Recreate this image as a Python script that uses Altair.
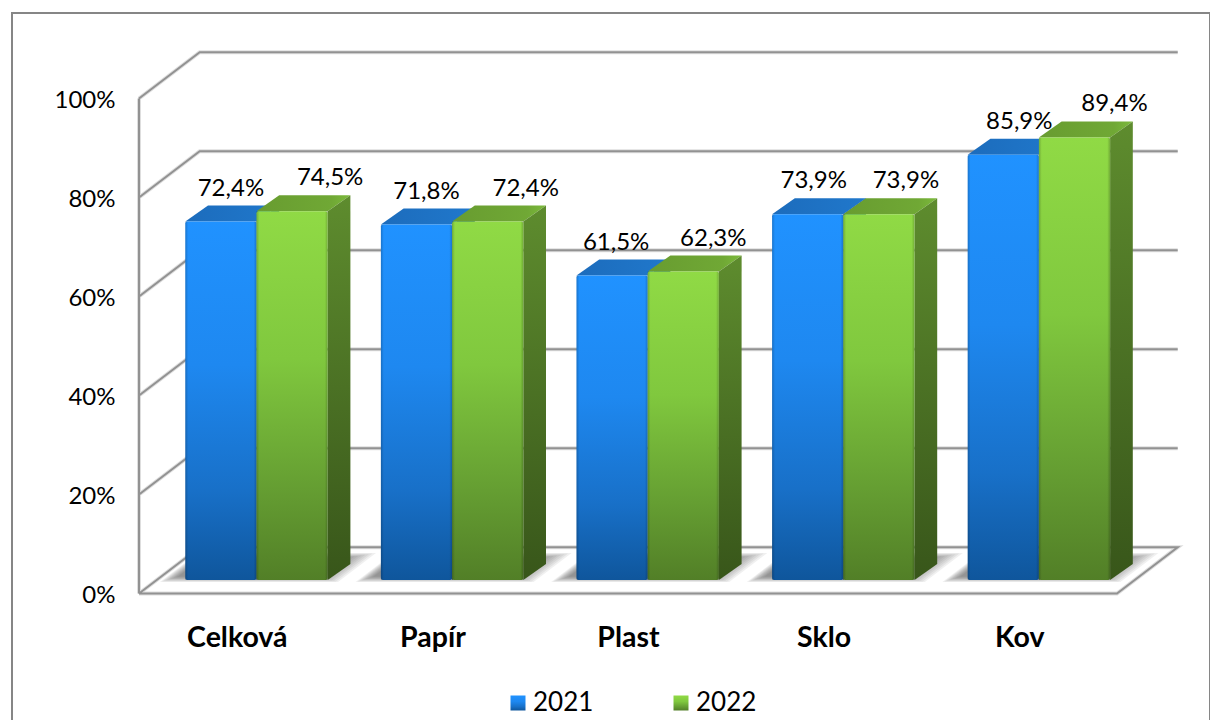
import json
import altair as alt
import pandas as pd

categories = ["Celková", "Papír", "Plast", "Sklo", "Kov"]
series = ["2021", "2022"]
v2021 = [72.4, 71.8, 61.5, 73.9, 85.9]
v2022 = [74.5, 72.4, 62.3, 73.9, 89.4]
ticks = [0, 20, 40, 60, 80, 100]
label_shift_px = {"2021": [10, 10, 4, 6, 16], "2022": [38, 38, 30, 27, 40]}

PX_X, PX_Y = 195.6, 4.95          # pixels per data unit
X_LO, X_HI = -127 / PX_X, 1071 / PX_X
Y_LO, Y_HI = -134.5 / PX_Y, 580.5 / PX_Y
WALL_DX, WALL_DY = 60.7 / PX_X, 46.3 / PX_Y
BAR_DX, BAR_DY = 22.7 / PX_X, 16 / PX_Y
BASE = 13.5 / PX_Y
BAR_START, BAR_W = 46.3 / PX_X, 71.2 / PX_X
FONT = "Lato"


def gradient(stops, x2=0, y2=1):
    return alt.Gradient(
        gradient="linear", x1=0, y1=0, x2=x2, y2=y2,
        stops=[alt.GradientStop(offset=o, color=c) for o, c in stops],
    )


def grad_expr(stops):
    s = ",".join("{offset:%s,color:'%s'}" % (o, c) for o, c in stops)
    return {"expr": "{gradient:'linear',x1:0,y1:0,x2:0,y2:1,stops:[%s]}" % s}


blue_stops = [(0, "#2092ff"), (0.4, "#1e88f0"), (0.75, "#1870c8"), (1, "#0f569c")]
green_stops = [(0, "#90da45"), (0.4, "#80c83e"), (0.75, "#659e32"), (1, "#527f27")]

# wall and floor outline
wall = []
for t in ticks[1:]:
    for i, (x, y) in enumerate([(0, t), (WALL_DX, t + WALL_DY), (5 + WALL_DX, t + WALL_DY)]):
        wall.append(dict(line=f"t{t}", i=i, x=x, y=y))
for i, (x, y) in enumerate([(0, 0), (WALL_DX, WALL_DY), (5 + WALL_DX, WALL_DY), (5, 0), (0, 0)]):
    wall.append(dict(line="floor", i=i, x=x, y=y))
for i, (x, y) in enumerate([(0, 0), (0, 100)]):
    wall.append(dict(line="left", i=i, x=x, y=y))
wall = pd.DataFrame(wall)

# bars
bars = []
for s, vals in zip(series, [v2021, v2022]):
    for c, (cat, v) in enumerate(zip(categories, vals)):
        x0 = c + BAR_START + series.index(s) * BAR_W
        bars.append(dict(
            series=s, cat=cat, id=f"{s}-{c}", value=v, x0=x0, x1=x0 + BAR_W,
            base=BASE, top=BASE + v,
            label=f"{v:.1f}".replace(".", ",") + "%",
            lx=x0 + BAR_W / 2 + label_shift_px[s][c] / PX_X,
            ly=BASE + v + 33 / PX_Y,
        ))
bars = pd.DataFrame(bars)

side, top = [], []
for b in bars.to_dict("records"):
    side += [
        dict(series=b["series"], id=b["id"], x=b["x1"], y=b["top"], y2=b["base"]),
        dict(series=b["series"], id=b["id"], x=b["x1"] + BAR_DX, y=b["top"] + BAR_DY, y2=b["base"] + BAR_DY),
    ]
    top += [
        dict(series=b["series"], id=b["id"], y=b["top"], x=b["x0"], x2=b["x1"]),
        dict(series=b["series"], id=b["id"], y=b["top"] + BAR_DY, x=b["x0"] + BAR_DX, x2=b["x1"] + BAR_DX),
    ]
side, top = pd.DataFrame(side), pd.DataFrame(top)

# soft floor shadow: nested translucent parallelograms
shadow = []
for c in range(len(categories)):
    for step in range(10):
        ins = step * 2.0
        fx0 = c + (21 + ins) / PX_X
        fx1 = c + (199 - ins) / PX_X
        yf = (11.5 + ins * 0.3) / PX_Y
        yb = (40.5 - ins * 0.3) / PX_Y
        slope = 60.7 / 46.3 * (yb - yf) * PX_Y / PX_X
        shadow += [
            dict(id=f"{c}-{step}", y=yf, x=fx0, x2=fx1),
            dict(id=f"{c}-{step}", y=yb, x=fx0 + slope, x2=fx1 + slope),
        ]
shadow = pd.DataFrame(shadow)

xs = alt.Scale(domain=[X_LO, X_HI], nice=False, zero=False)
ys = alt.Scale(domain=[Y_LO, Y_HI], nice=False, zero=False)
x_axis = alt.Axis(
    orient="bottom", offset=-134.5, values=[i + 0.5 for i in range(5)],
    labelExpr=f"{json.dumps(categories, ensure_ascii=False)}[floor(datum.value)]",
    labelFont=FONT, labelFontSize=28.5, labelFontWeight="bold", labelColor="#000",
    labelPadding=30, labelFlush=False, labelOverlap=False, domain=False, ticks=False, grid=False)
y_axis = alt.Axis(
    orient="left", offset=-127, values=ticks, labelExpr="datum.value + '%'",
    labelFont=FONT, labelFontSize=24, labelColor="#000", labelPadding=24, labelOffset=2,
    labelFlush=False, labelOverlap=False, domain=False, ticks=False, grid=False)
X = lambda f="x": alt.X(f + ":Q", scale=xs, axis=x_axis, title=None)
Y = lambda f="y": alt.Y(f + ":Q", scale=ys, axis=y_axis, title=None)

wall_halo = alt.Chart(wall).mark_line(color="#dedede", strokeWidth=4).encode(x=X(), y=Y(), detail="line:N", order="i:Q")
wall_line = alt.Chart(wall).mark_line(color="#929292", strokeWidth=2).encode(x=X(), y=Y(), detail="line:N", order="i:Q")
shadow_layer = alt.Chart(shadow).mark_area(orient="horizontal", color="#555555", opacity=0.085).encode(
    y=Y(), x=X(), x2="x2:Q", detail="id:N")


def faces(s, top_grad, side_grad):
    t = alt.Chart(top[top.series == s]).mark_area(orient="horizontal", fill=top_grad).encode(
        y=Y(), x=X(), x2="x2:Q", detail="id:N")
    d = alt.Chart(side[side.series == s]).mark_area(fill=side_grad).encode(
        x=X(), y=Y(), y2="y2:Q", detail="id:N")
    f = alt.Chart(bars[bars.series == s]).mark_bar(cornerRadius=2).encode(
        x=X("x0"), x2="x1:Q", y=Y("top"), y2="base:Q",
        fill=alt.Fill("series:N",
                      scale=alt.Scale(domain=series, range=[grad_expr(blue_stops), grad_expr(green_stops)]),
                      legend=alt.Legend(title=None, orient="none", legendX=493, legendY=677,
                                        direction="horizontal", symbolType="square", symbolSize=225,
                                        symbolStrokeWidth=0, labelFont=FONT, labelFontSize=26,
                                        labelColor="#000", columnPadding=74, labelOffset=2)),
    )
    e = alt.Chart(bars[bars.series == s]).mark_bar(
        fill=gradient([(0, "rgba(0,0,0,0.2)"), (0.04, "rgba(0,0,0,0)"), (0.96, "rgba(0,0,0,0)"), (1, "rgba(0,0,0,0.2)")], x2=1, y2=0)
    ).encode(x=X("x0"), x2="x1:Q", y=Y("top"), y2="base:Q")
    return [t, d, f, e]


blue = faces("2021", gradient([(0, "#1c6cbc"), (1, "#2078cc")], x2=1, y2=0),
             gradient([(0, "#165a9c"), (1, "#0c3a68")]))
green = faces("2022", gradient([(0, "#689c30"), (0.8, "#70a835"), (1, "#7cba3c")], x2=1, y2=0),
              gradient([(0, "#5e8c2e"), (1, "#38561a")]))

labels = alt.Chart(bars).mark_text(font=FONT, fontSize=24, color="#000", baseline="middle").encode(
    x=X("lx"), y=Y("ly"), text="label:N")

chart = alt.layer(
    wall_halo, wall_line, shadow_layer, *blue, *green, labels
).properties(
    width=1198, height=715, padding={"left": 4, "top": 5, "right": 0, "bottom": 0}
).configure_view(stroke="#868686", strokeWidth=2)

chart.save("out.html", embed_options={"renderer": "svg", "actions": False})
